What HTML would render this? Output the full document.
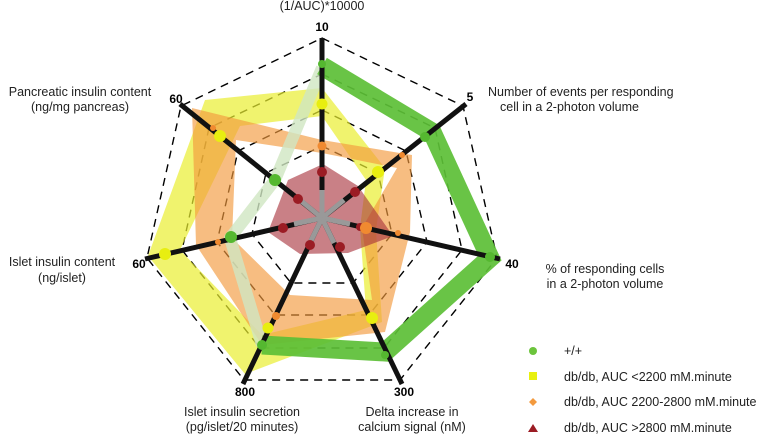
<!DOCTYPE html>
<html><head><meta charset="utf-8"><style>
html,body{margin:0;padding:0;background:#fff}
svg{display:block}
text{font-family:"Liberation Sans",sans-serif;font-size:12.5px;fill:#222}
.b{font-weight:bold;font-size:12px;fill:#000}
</style></head><body>
<svg width="781" height="438" viewBox="0 0 781 438" xmlns="http://www.w3.org/2000/svg">
<g fill="none" stroke="#000" stroke-width="1.4" stroke-dasharray="8 6">
<polygon points="322,38 463,106 497,258 400,380 244,380 147,258 181,106"/>
<polygon points="322,74 435,128 462,250 384,348 260,348 182,250 209,128"/>
<polygon points="322,110 406,151 427,242 369,315 275,315 217,242 238,151"/>
<polygon points="322,146 378,173 392,234 353,283 291,283 252,234 266,173"/>
</g>
<!-- yellow band -->
<path fill="#e9ee30" fill-opacity="0.7" fill-rule="evenodd" d="M322,88 L385,168 L376,230 L382,322 L245,374 L148,256 L205,100 Z M322,116 L366,180 L360,228 L366,310 L262,335 L180,250 L240,126 Z"/>
<!-- orange band -->
<path fill="#f39a3e" fill-opacity="0.65" fill-rule="evenodd" d="M322,140 L412,155 L410,232 L385,332 L262,345 L196,245 L192,108 Z M322,153 L397,168 L362,228 L372,300 L290,295 L232,238 L236,140 Z"/>
<!-- green -->
<polyline points="262,345 230,238 275,180 322,68" fill="none" stroke="#cfe6c2" stroke-opacity="0.8" stroke-width="12" stroke-linejoin="round"/>
<polyline points="322,66 432,132 490,258 385,352 262,345" fill="none" stroke="#5cbf36" stroke-opacity="0.92" stroke-width="19" stroke-linejoin="miter"/>
<!-- red -->
<polygon points="323,164 358,186 393,236 348,253 300,254 268,232 288,180" fill="#a8323c" fill-opacity="0.62"/>
<!-- axes -->
<g stroke="#111" stroke-width="5" stroke-linecap="butt">
<line x1="322" y1="218" x2="322" y2="38"/>
<line x1="322" y1="218" x2="466" y2="104"/>
<line x1="322" y1="218" x2="500" y2="259"/>
<line x1="322" y1="218" x2="402" y2="384"/>
<line x1="322" y1="218" x2="243" y2="384"/>
<line x1="322" y1="218" x2="145" y2="259"/>
<line x1="322" y1="218" x2="180" y2="104"/>
</g>
<g stroke="#999" stroke-width="5">
<line x1="322" y1="218" x2="322" y2="190"/>
<line x1="322" y1="218" x2="344" y2="200"/>
<line x1="322" y1="218" x2="350" y2="224"/>
<line x1="322" y1="218" x2="334" y2="243"/>
<line x1="322" y1="218" x2="310" y2="243"/>
<line x1="322" y1="218" x2="294" y2="224"/>
<line x1="322" y1="218" x2="300" y2="200"/>
</g>
<!-- markers -->
<g fill="#9b1c24">
<circle cx="322" cy="172" r="5"/><circle cx="355" cy="192" r="5"/><circle cx="360" cy="227" r="4"/><circle cx="340" cy="247" r="5"/><circle cx="310" cy="245" r="5"/><circle cx="283" cy="228" r="5"/><circle cx="298" cy="199" r="5"/>
</g>
<g fill="#f08a30">
<circle cx="322" cy="146" r="4.5"/><circle cx="402" cy="155" r="3"/><circle cx="366" cy="228" r="6"/><circle cx="398" cy="233" r="3"/><circle cx="276" cy="316" r="4"/><circle cx="218" cy="242" r="3"/><circle cx="213" cy="128" r="3"/>
</g>
<g fill="#e8ee10">
<circle cx="322" cy="104" r="5.5"/><circle cx="378" cy="172" r="6"/><circle cx="372" cy="318" r="6"/><circle cx="268" cy="328" r="5.5"/><circle cx="165" cy="254" r="6"/><circle cx="220" cy="136" r="6"/>
</g>
<g fill="#55b830">
<circle cx="322" cy="64" r="4"/><circle cx="425" cy="137" r="5"/><circle cx="490" cy="257" r="5"/><circle cx="385" cy="355" r="4"/><circle cx="262" cy="345" r="5"/><circle cx="231" cy="237" r="6"/><circle cx="275" cy="180" r="6"/>
</g>
<!-- labels -->
<text x="322" y="10" text-anchor="middle">(1/AUC)*10000</text>
<text class="b" x="322" y="31" text-anchor="middle">10</text>
<text class="b" x="470" y="101" text-anchor="middle">5</text>
<text x="488" y="96">Number of events per responding</text>
<text x="500" y="111">cell in a 2-photon volume</text>
<text class="b" x="512" y="268" text-anchor="middle">40</text>
<text x="605" y="273" text-anchor="middle">% of responding cells</text>
<text x="605" y="288" text-anchor="middle">in a 2-photon volume</text>
<text class="b" x="404" y="396" text-anchor="middle">300</text>
<text x="412" y="416" text-anchor="middle">Delta increase in</text>
<text x="412" y="431" text-anchor="middle">calcium signal (nM)</text>
<text class="b" x="245" y="396" text-anchor="middle">800</text>
<text x="242" y="416" text-anchor="middle">Islet insulin secretion</text>
<text x="242" y="431" text-anchor="middle">(pg/islet/20 minutes)</text>
<text class="b" x="139" y="268" text-anchor="middle">60</text>
<text x="62" y="266" text-anchor="middle">Islet insulin content</text>
<text x="62" y="282" text-anchor="middle">(ng/islet)</text>
<text class="b" x="176" y="103" text-anchor="middle">60</text>
<text x="80" y="96" text-anchor="middle">Pancreatic insulin content</text>
<text x="80" y="111" text-anchor="middle">(ng/mg pancreas)</text>
<!-- legend -->
<circle cx="533" cy="351" r="4" fill="#6cc43c"/>
<text x="564" y="355">+/+</text>
<rect x="529" y="372" width="8" height="8" fill="#e8f010"/>
<text x="564" y="381">db/db, AUC &lt;2200 mM.minute</text>
<polygon points="533,398 537,402 533,406 529,402" fill="#f39a3e"/>
<text x="564" y="406">db/db, AUC 2200-2800 mM.minute</text>
<polygon points="533,424 538,432 528,432" fill="#9b1c24"/>
<text x="564" y="432">db/db, AUC &gt;2800 mM.minute</text>
</svg>
</body></html>
